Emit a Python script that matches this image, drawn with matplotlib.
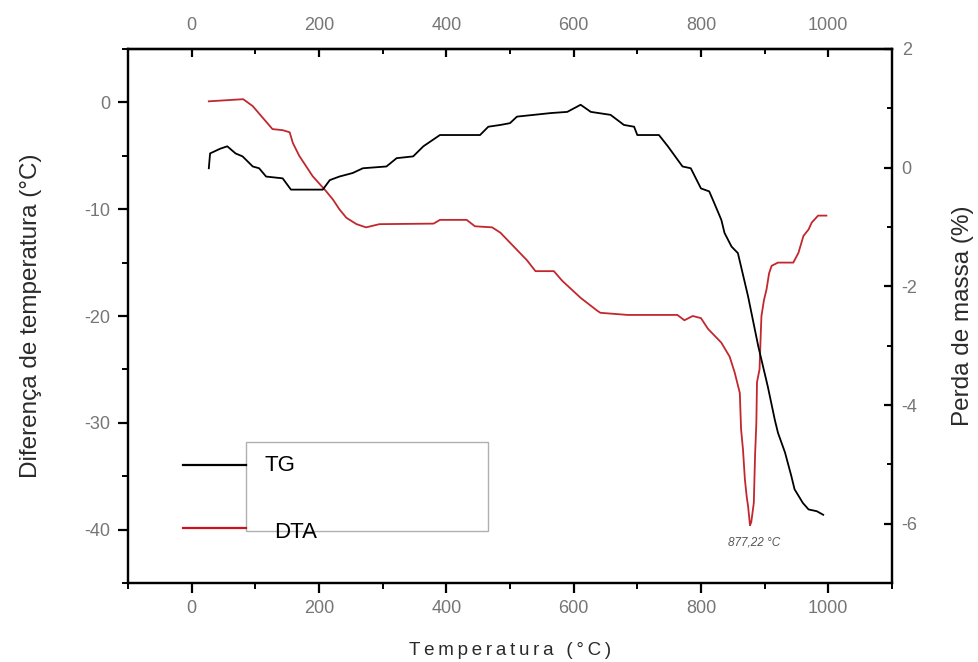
import matplotlib.pyplot as plt
from matplotlib.patches import Rectangle
from matplotlib.lines import Line2D
from matplotlib.ticker import MultipleLocator

plt.rcParams['font.family'] = ['Liberation Sans', 'DejaVu Sans']
plt.rcParams['axes.unicode_minus'] = False

# DTA curve (left axis, temperature difference in degC)
dta_temp = [27, 81, 96, 127, 143, 154, 159, 169, 190, 211, 222, 232, 243, 259, 274, 295,
            380, 390, 432, 445, 472, 485, 506, 527, 540, 569, 582, 611, 637, 642, 685,
            763, 774, 787, 800, 811, 832, 845, 853, 861, 863, 866, 869, 872, 874, 877,
            879, 883, 885, 887, 888, 892, 894, 895, 899, 903, 907, 911, 921, 945, 953,
            961, 969, 974, 984, 997]
dta = [0.1, 0.3, -0.35, -2.5, -2.6, -2.8, -3.8, -5.0, -6.9, -8.3, -9.1, -10.0, -10.8, -11.4, -11.7, -11.4,
       -11.35, -11.0, -11.0, -11.6, -11.7, -12.2, -13.5, -14.8, -15.8, -15.8, -16.7, -18.3, -19.5, -19.7, -19.9,
       -19.9, -20.4, -20.0, -20.2, -21.2, -22.5, -23.8, -25.3, -27.2, -30.6, -32.5, -35.3, -37.0, -37.8, -39.6,
       -39.3, -37.5, -33.0, -30.0, -26.2, -25.0, -21.5, -20.0, -18.5, -17.5, -16.0, -15.3, -15.0, -15.0, -14.1,
       -12.5, -11.9, -11.25, -10.6, -10.6]

# TG curve (right axis, mass loss in %)
tg_temp = [27, 29, 35, 45, 56, 69, 80, 96, 106, 117, 143, 156, 206, 217, 232, 253, 269, 306,
           322, 348, 364, 390, 453, 466, 485, 500, 511, 564, 590, 611, 627, 658, 679, 695,
           700, 734, 748, 771, 784, 800, 813, 821, 832, 837, 848, 858, 874, 890, 905, 916,
           921, 932, 942, 947, 960, 969, 982, 992]
tg = [-0.01, 0.24, 0.27, 0.32, 0.36, 0.24, 0.19, 0.02, -0.01, -0.15, -0.18, -0.37, -0.37, -0.21, -0.15, -0.09, -0.01, 0.02,
      0.16, 0.19, 0.36, 0.55, 0.55, 0.69, 0.72, 0.75, 0.86, 0.92, 0.94, 1.06, 0.94, 0.89, 0.72, 0.69,
      0.55, 0.55, 0.36, 0.02, -0.01, -0.35, -0.4, -0.6, -0.88, -1.1, -1.33, -1.44, -2.17, -3.01, -3.69, -4.25,
      -4.47, -4.8, -5.2, -5.42, -5.65, -5.76, -5.79, -5.85]

peak_temp = 877.22
peak_label = "877,22 °C"

tick_gray = '#767676'
label_col = '#2a2a2a'
red = '#c1272d'

fig = plt.figure(figsize=(9.79, 6.62), dpi=100)
ax = fig.add_axes([0.1307, 0.1193, 0.7804, 0.8067])
ax2 = ax.twinx()

ax.plot(dta_temp, dta, color=red, lw=1.3)
ax2.plot(tg_temp, tg, color='black', lw=1.3)

ax.set_xlim(-100, 1100)
ax.set_ylim(-45, 5)
ax2.set_ylim(-7, 2)

ax.xaxis.set_major_locator(MultipleLocator(200))
ax.xaxis.set_minor_locator(MultipleLocator(100))
ax.yaxis.set_major_locator(MultipleLocator(10))
ax.yaxis.set_minor_locator(MultipleLocator(5))
ax2.yaxis.set_major_locator(MultipleLocator(2))
ax2.yaxis.set_minor_locator(MultipleLocator(1))

for a in (ax, ax2):
    for s in a.spines.values():
        s.set_linewidth(1.6)

ax.tick_params(which='major', direction='out', length=7.5, width=1.6, labelsize=13,
               labelcolor=tick_gray, pad=5)
ax.tick_params(which='minor', direction='out', length=4, width=1.4)
ax2.tick_params(which='major', direction='in', length=5.5, width=1.6, labelsize=13,
                labelcolor=tick_gray, pad=7)
ax2.tick_params(which='minor', direction='in', length=3.5, width=1.4)

top = ax.secondary_xaxis('top')
top.xaxis.set_major_locator(MultipleLocator(200))
top.xaxis.set_minor_locator(MultipleLocator(100))
top.spines['top'].set_linewidth(1.6)
top.tick_params(which='major', direction='in', length=5.5, width=1.6, labelsize=13,
                labelcolor=tick_gray, pad=11)
top.tick_params(which='minor', direction='in', length=3.5, width=1.4)

ax.set_ylabel("Diferença de temperatura (°C)", fontsize=17.5, color=label_col, labelpad=31)
ax2.set_ylabel("Perda de massa (%)", fontsize=17.5, color=label_col, labelpad=25)
xlabel = "\u2009".join("Temperatura (°C)")
ax.set_xlabel(xlabel, fontsize=13.5, color=label_col, labelpad=18)

# peak annotation
ax.text(peak_temp + 6, -41.2, peak_label, fontsize=8.5, color='#555555', style='italic',
        ha='center', va='center')

# legend drawn by hand (lines sit outside the frame like in the original)
ax.add_patch(Rectangle((0.154, 0.0974), 0.317, 0.1672, transform=ax.transAxes,
                       fill=False, ec='#b0b0b0', lw=1.0))
ax.add_line(Line2D([0.0716, 0.1545], [0.221, 0.221], transform=ax.transAxes, color='black', lw=1.6))
ax.add_line(Line2D([0.0716, 0.1545], [0.103, 0.103], transform=ax.transAxes, color='#d01020', lw=1.6))
ax.text(0.179, 0.221, "TG", transform=ax.transAxes, fontsize=16, va='center', ha='left')
ax.text(0.191, 0.0955, "DTA", transform=ax.transAxes, fontsize=16, va='center', ha='left')

fig.savefig("out.png", dpi=100)
